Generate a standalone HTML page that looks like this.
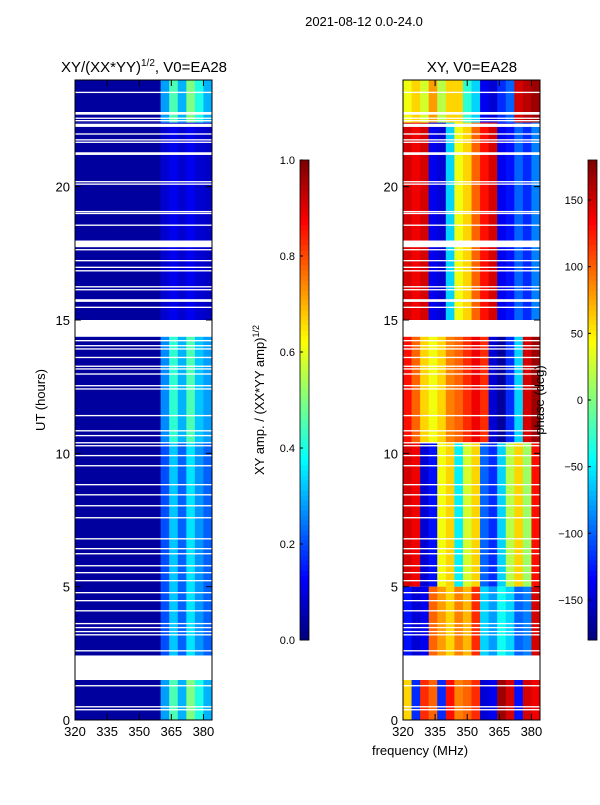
<!DOCTYPE html>
<html><head><meta charset="utf-8"><style>
body{margin:0;background:#fff;}
svg text{font-family:"Liberation Sans",sans-serif;fill:#000;}
</style></head><body>
<svg id="fig" width="600" height="800" xmlns="http://www.w3.org/2000/svg">
<text x="364" y="26" font-size="13" text-anchor="middle">2021-08-12 0.0-24.0</text>
<text x="144" y="72" font-size="15" text-anchor="middle">XY/(XX*YY)<tspan font-size="10" dy="-6">1/2</tspan><tspan dy="6">, V0=EA28</tspan></text>
<text x="472" y="72" font-size="15" text-anchor="middle">XY, V0=EA28</text>
<g id="left"></g>
<g id="right"></g>
<g id="axes"></g>
<text transform="translate(45,400) rotate(-90)" font-size="13" text-anchor="middle">UT (hours)</text>
<text x="420" y="755" font-size="13" text-anchor="middle">frequency (MHz)</text>
<text transform="translate(264,400) rotate(-90)" font-size="13" text-anchor="middle">XY amp. / (XX*YY amp)<tspan font-size="9" dy="-5">1/2</tspan></text>
<text transform="translate(544,400) rotate(-90)" font-size="13" text-anchor="middle">phase (deg)</text>
</svg>
<script>
const freqBins=[320,324,328,332,336,340,344,348,352,356,360,364,368,372,376,380];
const ampSegments=[[22.4,24],[15.0,22.4],[10.4,14.4],[2.4,10.4],[0,1.5]];
const ampValues=[
[.03,.03,.03,.03,.03,.03,.03,.03,.03,.03,.28,.45,.3,.5,.4,.3],
[.03,.03,.03,.03,.03,.03,.03,.03,.03,.03,.08,.11,.08,.11,.08,.07],
[.03,.03,.03,.03,.03,.03,.03,.03,.03,.03,.26,.42,.3,.45,.32,.28],
[.03,.03,.03,.03,.03,.03,.03,.03,.03,.03,.2,.32,.22,.35,.27,.22],
[.03,.03,.03,.03,.03,.03,.03,.03,.03,.03,.28,.45,.3,.5,.4,.3]];
const phaseSegments=[[22.4,24],[15.0,22.4],[10.4,14.4],[5.0,10.4],[2.4,5.0],[0,1.5]];
const phaseValues=[
[40,60,30,80,20,60,60,-30,-60,-140,-150,-120,-100,150,160,170],
[150,140,150,-140,-150,-60,40,60,100,130,150,-140,-130,-100,-120,-90],
[130,100,60,40,60,90,100,120,140,120,-150,-170,-120,-60,150,170],
[150,140,-150,-130,40,60,-50,30,60,-100,-120,-60,20,60,10,130],
[-130,-150,-140,100,80,60,90,70,120,-60,-80,-40,-60,-100,-90,150],
[60,-120,120,100,-120,130,90,100,120,-150,-140,170,150,-130,150,140]];
// flagged rows: top hour and duration (hours)
const flagTops=[23.56,22.8,22.59,22.5,22.36,22.0,21.78,21.69,21.29,20.21,20.12,19.09,19.02,18.58,17.98,17.66,17.25,17.0,16.87,16.27,16.16,15.78,15.5,15.0,14.93,14.78,14.25,14.06,13.94,13.62,13.29,13.19,13.0,12.56,12.44,11.44,10.87,10.69,10.42,10.31,9.94,9.56,8.85,8.47,8.06,7.61,6.82,6.45,6.26,5.81,5.55,5.25,4.8,4.5,4.12,3.64,3.49,3.34,3.22,2.62,2.42,1.31,0.52,0.41];
const flagDurs=[0.05,0.1,0.05,0.05,0.12,0.05,0.05,0.05,0.1,0.05,0.05,0.05,0.05,0.05,0.25,0.05,0.05,0.05,0.05,0.05,0.05,0.1,0.05,0.04,0.12,0.41,0.05,0.05,0.05,0.05,0.05,0.05,0.05,0.05,0.05,0.05,0.05,0.05,0.05,0.05,0.05,0.05,0.05,0.05,0.05,0.05,0.05,0.05,0.05,0.05,0.05,0.05,0.05,0.05,0.05,0.05,0.05,0.05,0.05,0.05,0.92,0.05,0.05,0.05];
const xTicks=[320,335,350,365,380];
const yTicks=[0,5,10,15,20];
const ampTicks=[0.0,0.2,0.4,0.6,0.8,1.0];
const phaseTicks=[-150,-100,-50,0,50,100,150];

const NS="http://www.w3.org/2000/svg";
const T=640/24, X0L=75, X0R=403, W=137;
const yS=h=>720-h*T;
const xS=(f,x0)=>x0+(f-320)*W/64;
function jet(v){v=Math.max(0,Math.min(1,v));
 const r=Math.max(0,Math.min(1,1.5-Math.abs(4*v-3))),g=Math.max(0,Math.min(1,1.5-Math.abs(4*v-2))),b=Math.max(0,Math.min(1,1.5-Math.abs(4*v-1)));
 return `rgb(${Math.round(r*255)},${Math.round(g*255)},${Math.round(b*255)})`;}
function mk(tag,attrs,parent){const e=document.createElementNS(NS,tag);for(const k in attrs)e.setAttribute(k,attrs[k]);parent.appendChild(e);return e;}
const L=document.getElementById('left'),R=document.getElementById('right'),A=document.getElementById('axes');
ampSegments.forEach((s,i)=>{freqBins.forEach((f,j)=>{
 const r=mk('rect',{x:xS(f,X0L),y:yS(s[1]),width:W*4/64+0.5,height:yS(s[0])-yS(s[1]),fill:jet(ampValues[i][j])},L);
 
 
});});
phaseSegments.forEach((s,i)=>{freqBins.forEach((f,j)=>{
 const r=mk('rect',{x:xS(f,X0R),y:yS(s[1]),width:W*4/64+0.5,height:yS(s[0])-yS(s[1]),fill:jet((phaseValues[i][j]+180)/360)},R);
 
 
});});
[[X0L,L],[X0R,R]].forEach(([x0,g])=>{
 flagTops.forEach((h,i)=>{
  const r=mk('rect',{x:x0,y:yS(h),width:W,height:Math.max(1.3,flagDurs[i]*T),fill:'#fff'},g);
  
  
 });
});
[X0L,X0R].forEach((x0,k)=>{
 const fr=mk('rect',{x:x0,y:80,width:W,height:640,fill:'none',stroke:'#000','stroke-width':1},A);
 
 
 xTicks.forEach(t=>{const x=xS(t,x0);
  mk('line',{x1:x,x2:x,y1:720,y2:714,stroke:'#000'},A);mk('line',{x1:x,x2:x,y1:80,y2:86,stroke:'#000'},A);
  const tx=mk('text',{x:x,y:736,'font-size':13,'text-anchor':'middle'},A);tx.textContent=t;
  
  
 });
 yTicks.forEach(t=>{const y=yS(t);
  mk('line',{x1:x0,x2:x0+6,y1:y,y2:y,stroke:'#000'},A);mk('line',{x1:x0+W,x2:x0+W-6,y1:y,y2:y,stroke:'#000'},A);
  const tx=mk('text',{x:x0-5,y:y+5,'font-size':13,'text-anchor':'end'},A);tx.textContent=t;
  
  
 });
});
function colorbar(x0,vmin,vmax,ticks,name){
 const g=mk('g',{},A);
 
 
 for(let i=0;i<96;i++){mk('rect',{x:x0,y:640-(i+1)*5,width:9,height:5.5,fill:jet(i/95)},g);}
 mk('rect',{x:x0,y:160,width:9,height:480,fill:'none',stroke:'#000','stroke-width':0.8},g);
 ticks.forEach(t=>{const y=640-(t-vmin)/(vmax-vmin)*480;
  mk('line',{x1:x0,x2:x0+3,y1:y,y2:y,stroke:'#000'},g);
  const tx=mk('text',{x:x0-5,y:y+4,'font-size':11,'text-anchor':'end'},g);
  tx.textContent=(vmax<=1?t.toFixed(1):(t<0?'\u2212'+(-t):t));
  
  
 });
}
colorbar(300,0,1,ampTicks,'amp-colorbar');
colorbar(588,-180,180,phaseTicks,'phase-colorbar');
</script>
</body></html>
